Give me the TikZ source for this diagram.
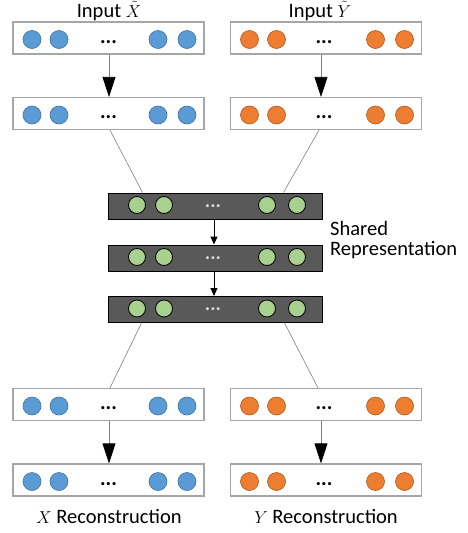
\documentclass[tikz,border=0pt]{standalone}
\usepackage{fontspec}
\setmainfont{Carlito}
\usetikzlibrary{arrows.meta,calc}
\definecolor{blueF}{HTML}{5B9BD5}
\definecolor{blueD}{HTML}{41719C}
\definecolor{orangeF}{HTML}{ED7D31}
\definecolor{orangeD}{HTML}{AE5A21}
\definecolor{greenF}{HTML}{A9D18E}
\definecolor{boxgray}{HTML}{A6A6A6}
\definecolor{darkbox}{HTML}{595959}
\definecolor{linegray}{HTML}{808080}
\tikzset{
  wbox/.style={draw=boxgray, line width=1.2pt, fill=white, minimum width=191pt, minimum height=32pt, inner sep=0pt},
  sbox/.style={draw=black, line width=1pt, fill=darkbox, minimum width=214pt, minimum height=26pt, inner sep=0pt},
  bcirc/.style={circle, draw=blueD, fill=blueF, line width=0.6pt, minimum size=18pt, inner sep=0pt},
  ocirc/.style={circle, draw=orangeD, fill=orangeF, line width=0.6pt, minimum size=18pt, inner sep=0pt},
  gcirc/.style={circle, draw=black, fill=greenF, line width=0.8pt, minimum size=17pt, inner sep=0pt},
  wdots/.style={font=\bfseries\fontsize{21}{21}\selectfont, inner sep=0pt},
  sdots/.style={font=\bfseries\fontsize{20}{20}\selectfont, text=white!85!black, inner sep=0pt},
  bigarrow/.style={draw=linegray, line width=0.7pt, -{Triangle[width=13pt,length=20pt,fill=black,color=black]}},
  smallarrow/.style={draw=black, line width=1pt, -{Triangle[width=7pt,length=8pt]}},
  thinline/.style={draw=linegray, line width=0.6pt},
  lbl/.style={font=\fontsize{20.5}{20}\selectfont, inner sep=0pt, text=black},
}
\newcommand\smallmath[1]{{\fontsize{17.5}{17.5}\selectfont$#1$}}
\newcommand\wlayer[5]{%
  \node[wbox] (#1) at (#2,#3) {};
  \node[#4] (#1a) at ($(#1.center)+(-76.5,1.5)$) {};
  \node[#4] (#1b) at ($(#1.center)+(-49.5,1.5)$) {};
  \node[wdots, anchor=base] (#1d) at ($(#1.center)+(#5,5)$) {...};
  \node[#4] (#1c) at ($(#1.center)+(49.5,1.5)$) {};
  \node[#4] (#1e) at ($(#1.center)+(78.5,1.5)$) {};
}
\newcommand\slayer[3]{%
  \node[sbox] (#1) at (#2,#3) {};
  \node[gcirc] (#1a) at ($(#1.center)+(-78,-1)$) {};
  \node[gcirc] (#1b) at ($(#1.center)+(-51,-1)$) {};
  \node[sdots, anchor=base] (#1d) at ($(#1.center)+(-2,1)$) {...};
  \node[gcirc] (#1c) at ($(#1.center)+(52,-1)$) {};
  \node[gcirc] (#1e) at ($(#1.center)+(82,-1)$) {};
}
\begin{document}
\begin{tikzpicture}[x=1pt,y=-1pt]
\useasboundingbox (0,0) rectangle (467,533);
% top input layers
\wlayer{L1}{108.5}{38}{bcirc}{0}
\wlayer{R1}{326}{38}{ocirc}{-2}
\wlayer{L2}{108.5}{113.5}{bcirc}{0}
\wlayer{R2}{326}{113.5}{ocirc}{-2}
\node[lbl, anchor=base] (inX) at (109,17) {Input \smallmath{\tilde{X}}};
\node[lbl, anchor=base] (inY) at (320,17) {Input \smallmath{\tilde{Y}}};
% shared
\slayer{S1}{215}{206}
\slayer{S2}{215}{258}
\slayer{S3}{215}{309.5}
\node[lbl, anchor=base west, align=left] (shared) at (330,255) {Shared\\Representation};
% bottom layers
\wlayer{L3}{108.5}{404.5}{bcirc}{0}
\wlayer{R3}{326}{404.5}{ocirc}{-2}
\wlayer{L4}{108.5}{480}{bcirc}{0}
\wlayer{R4}{326}{480}{ocirc}{-2}
\node[lbl, anchor=base] (recX) at (109,523) {\smallmath{X} Reconstruction};
\node[lbl, anchor=base] (recY) at (326,523) {\smallmath{Y} Reconstruction};
% arrows
\draw[bigarrow] ($(L1.south)+(0.5,0)$) -- ($(L2.north)+(0.5,0)$);
\draw[bigarrow] ($(R1.south)+(-5,0)$) -- ($(R2.north)+(-5,0)$);
\draw[bigarrow] ($(L3.south)+(0.5,0)$) -- ($(L4.north)+(0.5,0)$);
\draw[bigarrow] ($(R3.south)+(-5,0)$) -- ($(R4.north)+(-5,0)$);
\draw[smallarrow] ($(S1.south)+(-1,0)$) -- ($(S2.north)+(-1,0)$);
\draw[smallarrow] ($(S2.south)+(-1,0)$) -- ($(S3.north)+(-1,0)$);
% thin connectors
\draw[thinline] ($(L2.south)+(1.5,0)$) -- ($(S1.north west)+(35,0)$);
\draw[thinline] ($(R2.south)+(-7,0)$) -- ($(S1.north west)+(176,0)$);
\draw[thinline] ($(S3.south west)+(34,0)$) -- ($(L3.north)+(1.5,0)$);
\draw[thinline] ($(S3.south west)+(177,0)$) -- ($(R3.north)+(-8,0)$);
\end{tikzpicture}
\end{document}
